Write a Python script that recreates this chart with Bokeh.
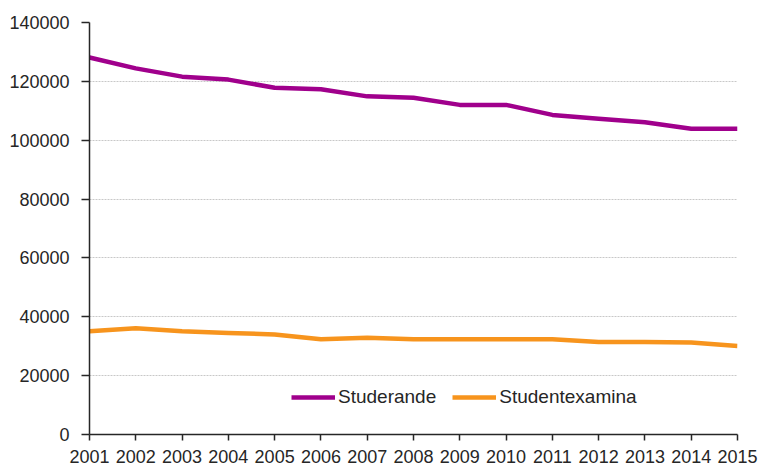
from bokeh.plotting import figure
from bokeh.models import Range1d, Legend, LegendItem, FixedTicker, NumeralTickFormatter
from bokeh.embed import file_html
from bokeh.resources import INLINE

years = list(range(2001, 2016))
studerande = [128100, 124400, 121600, 120600, 117800, 117300, 114900, 114400,
              112000, 112000, 108600, 107300, 106100, 103900, 103900]
studentexamina = [35100, 36100, 35100, 34500, 34000, 32400, 32900, 32400,
                  32400, 32400, 32400, 31400, 31400, 31300, 30100]
y_ticks = [0, 20000, 40000, 60000, 80000, 100000, 120000, 140000]

FONT = "Liberation Sans"

p = figure(width=760, height=466, output_backend="svg", toolbar_location=None,
           x_range=Range1d(2001, 2015), y_range=Range1d(0, 140000),
           min_border_left=89, min_border_right=23, min_border_top=22, min_border_bottom=32)
p.outline_line_color = None
p.background_fill_color = "white"
p.border_fill_color = "white"

r1 = p.line(years, studerande, line_color="#a0008c", line_width=4.5, line_join="round")
r2 = p.line(years, studentexamina, line_color="#f7941d", line_width=4.5, line_join="round")

p.xgrid.grid_line_color = None
p.ygrid.grid_line_color = "#c8c8c8"
p.ygrid.grid_line_dash = "2 1"
p.ygrid.grid_line_width = 1

p.xaxis.ticker = FixedTicker(ticks=years)
p.yaxis.ticker = FixedTicker(ticks=y_ticks)
p.yaxis.formatter = NumeralTickFormatter(format="0")
for ax in (p.xaxis[0], p.yaxis[0]):
    ax.axis_line_color = "#262626"
    ax.axis_line_width = 1.5
    ax.major_tick_line_color = "#262626"
    ax.major_tick_line_width = 1.5
    ax.minor_tick_line_color = None
    ax.major_label_text_font = FONT
    ax.major_label_text_font_size = "18px"
    ax.major_label_text_color = "#262626"
p.xaxis.major_tick_out = 6
p.xaxis.major_tick_in = 0
p.xaxis.major_label_standoff = 9
p.yaxis.major_tick_out = 8
p.yaxis.major_tick_in = 0
p.yaxis.major_label_standoff = 12

legend = Legend(items=[LegendItem(label="Studerande", renderers=[r1]),
                       LegendItem(label="Studentexamina", renderers=[r2])],
                orientation="horizontal", location=(202, 26),
                padding=0, margin=0, spacing=16, label_standoff=3,
                glyph_width=44, glyph_height=20, label_height=20,
                label_text_font=FONT, label_text_font_size="19px",
                label_text_color="#262626",
                border_line_color=None, background_fill_alpha=0)
p.add_layout(legend)

open("out.html", "w").write(file_html(p, INLINE))
